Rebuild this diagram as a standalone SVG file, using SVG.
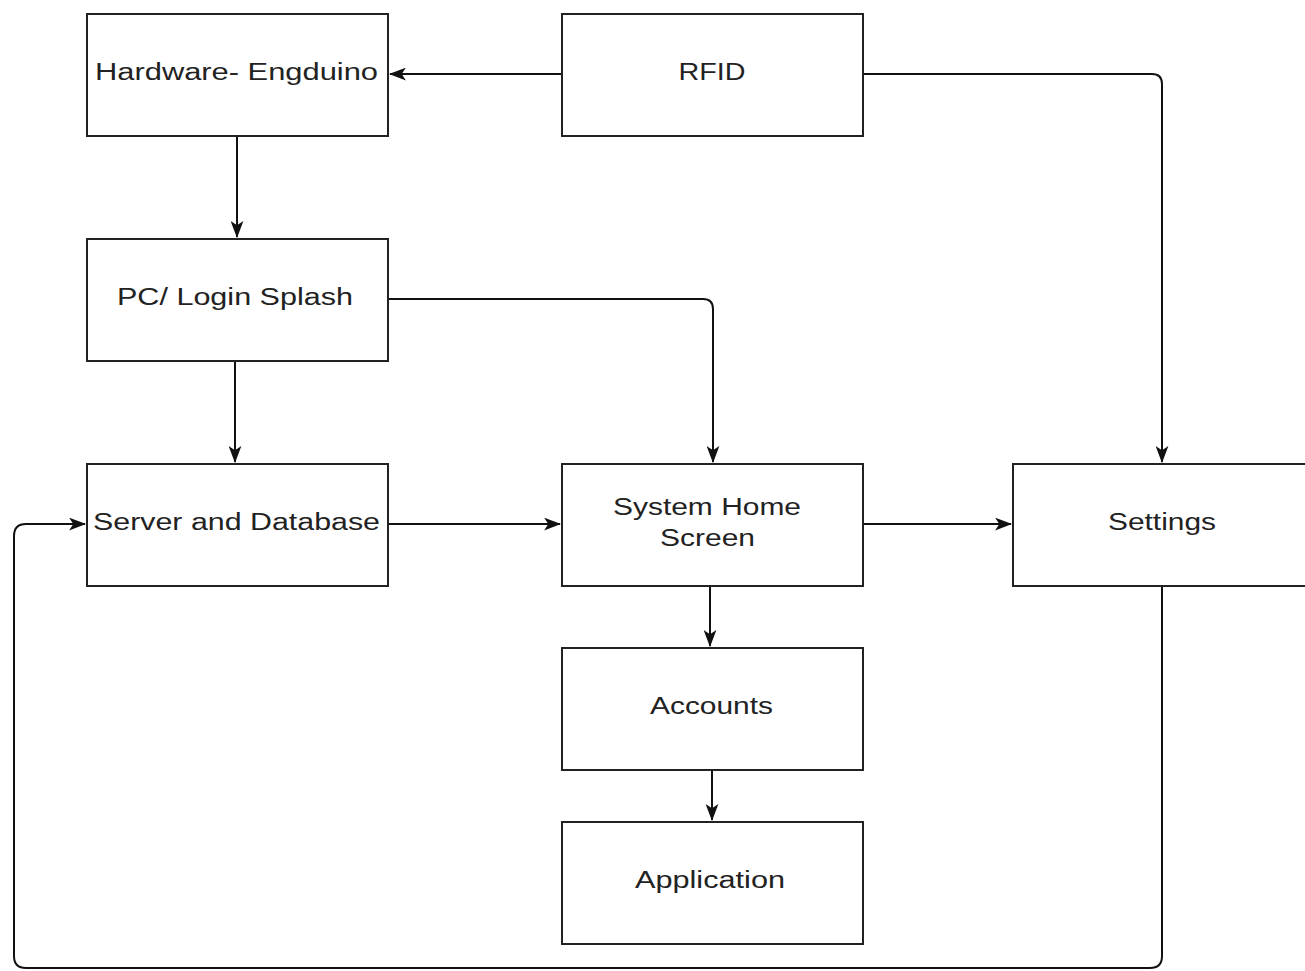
<svg xmlns="http://www.w3.org/2000/svg" width="1305" height="971" viewBox="0 0 1305 971">
<style>
.box{fill:#fff;stroke:#222;stroke-width:2}
.lbl{font-family:"Liberation Sans",Arial,sans-serif;font-size:23px;fill:#222;text-anchor:middle}
.c{fill:none;stroke:#111;stroke-width:2}
</style>
<defs>
<marker id="ah" viewBox="0 0 16 12" refX="15" refY="6" markerWidth="17" markerHeight="13" markerUnits="userSpaceOnUse" orient="auto">
<path d="M0,0 L16,6 L0,12 L4,6 Z" fill="#111"/>
</marker>
</defs>
<rect width="1305" height="971" fill="#fff"/>
<g id="connectors">
<path class="c" d="M562,74 H390" marker-end="url(#ah)"/>
<path class="c" d="M863,74 H1152 Q1162,74 1162,84 V462" marker-end="url(#ah)"/>
<path class="c" d="M237,136 V237" marker-end="url(#ah)"/>
<path class="c" d="M388,299 H703 Q713,299 713,309 V462" marker-end="url(#ah)"/>
<path class="c" d="M235,361 V462" marker-end="url(#ah)"/>
<path class="c" d="M388,524 H560" marker-end="url(#ah)"/>
<path class="c" d="M863,524 H1011" marker-end="url(#ah)"/>
<path class="c" d="M710,586 V646" marker-end="url(#ah)"/>
<path class="c" d="M712,770 V820" marker-end="url(#ah)"/>
<path class="c" d="M1162,586 V956 Q1162,968 1150,968 H26 Q14,968 14,956 V536 Q14,524 26,524 H85" marker-end="url(#ah)"/>
</g>
<g id="hardware"><rect class="box" x="87" y="14" width="301" height="122"/><text class="lbl" x="236.5" y="80" textLength="283" lengthAdjust="spacingAndGlyphs">Hardware- Engduino</text></g>
<g id="rfid"><rect class="box" x="562" y="14" width="301" height="122"/><text class="lbl" x="712" y="80" textLength="67" lengthAdjust="spacingAndGlyphs">RFID</text></g>
<g id="pc"><rect class="box" x="87" y="239" width="301" height="122"/><text class="lbl" x="235" y="305" textLength="236" lengthAdjust="spacingAndGlyphs">PC/ Login Splash</text></g>
<g id="server"><rect class="box" x="87" y="464" width="301" height="122"/><text class="lbl" x="236.5" y="530" textLength="287" lengthAdjust="spacingAndGlyphs">Server and Database</text></g>
<g id="system"><rect class="box" x="562" y="464" width="301" height="122"/><text class="lbl" x="707" y="515" textLength="188" lengthAdjust="spacingAndGlyphs">System Home</text><text class="lbl" x="707.5" y="546" textLength="95" lengthAdjust="spacingAndGlyphs">Screen</text></g>
<g id="settings"><rect class="box" x="1013" y="464" width="310" height="122"/><text class="lbl" x="1162" y="530" textLength="108" lengthAdjust="spacingAndGlyphs">Settings</text></g>
<g id="accounts"><rect class="box" x="562" y="648" width="301" height="122"/><text class="lbl" x="711.5" y="714" textLength="123" lengthAdjust="spacingAndGlyphs">Accounts</text></g>
<g id="application"><rect class="box" x="562" y="822" width="301" height="122"/><text class="lbl" x="710" y="888" textLength="150" lengthAdjust="spacingAndGlyphs">Application</text></g>
</svg>
